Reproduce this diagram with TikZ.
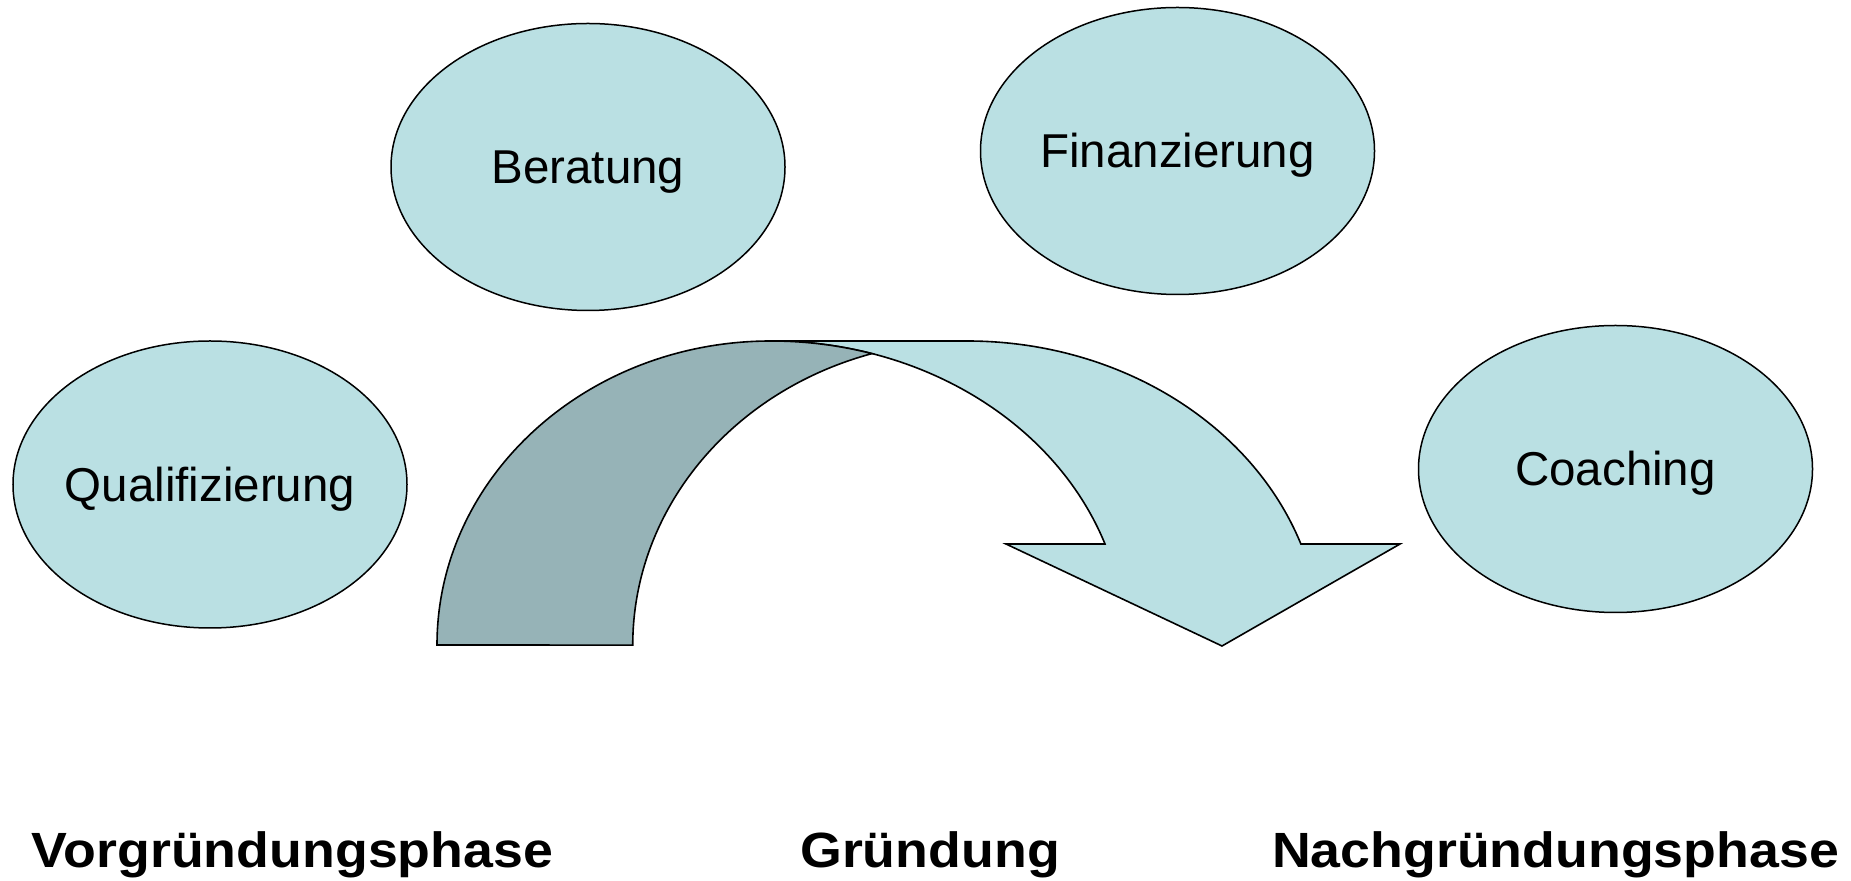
\documentclass[tikz,border=0pt]{standalone}
\usepackage{fontspec}
\setmainfont{Liberation Sans}
\usetikzlibrary{shapes.geometric}
\definecolor{bubblefill}{RGB}{186,224,227}
\definecolor{backfill}{RGB}{150,179,183}
\begin{document}
\begin{tikzpicture}[x=1bp,y=1bp,
  bubble/.style={ellipse, draw=black, line width=1.5bp, fill=bubblefill,
    minimum width=394bp, minimum height=287bp, inner sep=0pt},
  lbl/.style={anchor=base, inner sep=0pt, font=\fontsize{47.5bp}{57bp}\selectfont},
  phase/.style={anchor=base, inner sep=0pt, font=\bfseries\fontsize{49.5bp}{58bp}\selectfont},
  arrowpart/.style={draw=black, line width=1.6bp, line join=miter}]
\useasboundingbox (0,0) rectangle (1851,881);

% bubbles
\node[bubble] (qual) at (210,396.5) {};
\node[lbl] (qualtext) at ([yshift=-17bp]qual.center) {Qualifizierung};
\node[bubble] (bera) at (588,714) {};
\node[lbl] (beratext) at ([yshift=-17bp]bera.center) {Beratung};
\node[bubble] (fina) at (1177.5,730) {};
\node[lbl] (finatext) at ([yshift=-17bp]fina.center) {Finanzierung};
\node[bubble] (coach) at (1615.5,412) {};
\node[lbl] (coachtext) at ([yshift=-17bp]coach.center) {Coaching};

% curved arrow: front (light) part
\path[arrowpart, fill=bubblefill] (771,540) -- (967,540)
  arc[start angle=90, end angle=19.4, x radius=354bp, y radius=304bp]
  -- (1400,337) -- (1222,235) -- (1006,337) -- (1105,337)
  arc[start angle=19.4, end angle=90, x radius=354bp, y radius=304bp] -- cycle;
% curved arrow: back (dark) part
\path[arrowpart, fill=backfill] (437,236)
  arc[start angle=180, end angle=90, x radius=334bp, y radius=304bp]
  arc[start angle=90, end angle=73.44, x radius=354bp, y radius=304bp]
  arc[start angle=106.5, end angle=180, x radius=334bp, y radius=304bp] -- cycle;

% phases
\node[phase] (vor) at (292.5,13) {\scalebox{1.085}[1]{Vorgründungsphase}};
\node[phase] (gruend) at (930,13) {\scalebox{1.085}[1]{Gründung}};
\node[phase] (nach) at (1555.5,13) {\scalebox{1.085}[1]{Nachgründungsphase}};
\end{tikzpicture}
\end{document}
